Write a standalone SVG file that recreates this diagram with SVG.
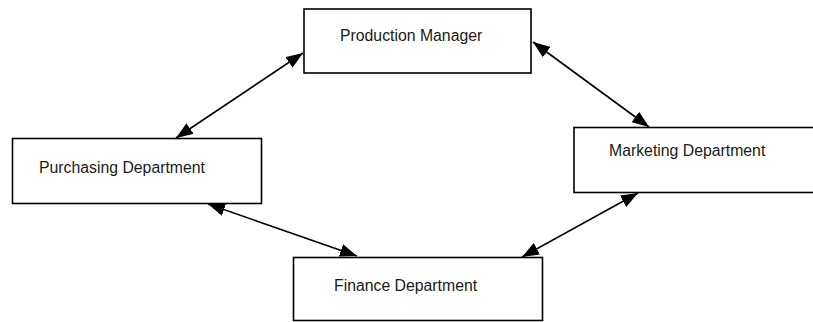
<svg xmlns="http://www.w3.org/2000/svg" width="813" height="322" viewBox="0 0 813 322">
  <style>
    .box { fill: #ffffff; stroke: #000000; stroke-width: 1.6; }
    .lbl { font-family: "Liberation Sans", Arial, sans-serif; font-size: 15.8px; fill: #1a1a1a; }
    .conn { stroke: #000000; stroke-width: 1.6; fill: none; marker-start: url(#ah); marker-end: url(#ah); }
  </style>
  <defs>
    <marker id="ah" viewBox="0 0 17 13" refX="17" refY="6.5" markerWidth="17" markerHeight="13" markerUnits="userSpaceOnUse" orient="auto-start-reverse">
      <path d="M0,0 L17,6.5 L0,13 Z" fill="#000000"/>
    </marker>
  </defs>
  <rect width="813" height="322" fill="#ffffff"/>
  <g id="production-manager">
    <rect class="box" x="304" y="9" width="227" height="64"/>
    <text class="lbl" x="340" y="41">Production Manager</text>
  </g>
  <g id="purchasing-department">
    <rect class="box" x="12.5" y="138.5" width="249" height="65"/>
    <text class="lbl" x="39" y="173">Purchasing Department</text>
  </g>
  <g id="marketing-department">
    <rect class="box" x="574" y="127.5" width="245" height="65"/>
    <text class="lbl" x="609" y="156">Marketing Department</text>
  </g>
  <g id="finance-department">
    <rect class="box" x="293.5" y="257.5" width="249" height="63"/>
    <text class="lbl" x="334" y="291">Finance Department</text>
  </g>
  <g id="connectors">
    <line class="conn" x1="176" y1="138" x2="303" y2="53"/>
    <line class="conn" x1="533" y1="42" x2="649" y2="127"/>
    <line class="conn" x1="208" y1="204" x2="357" y2="256"/>
    <line class="conn" x1="522" y1="257" x2="638" y2="193"/>
  </g>
</svg>
